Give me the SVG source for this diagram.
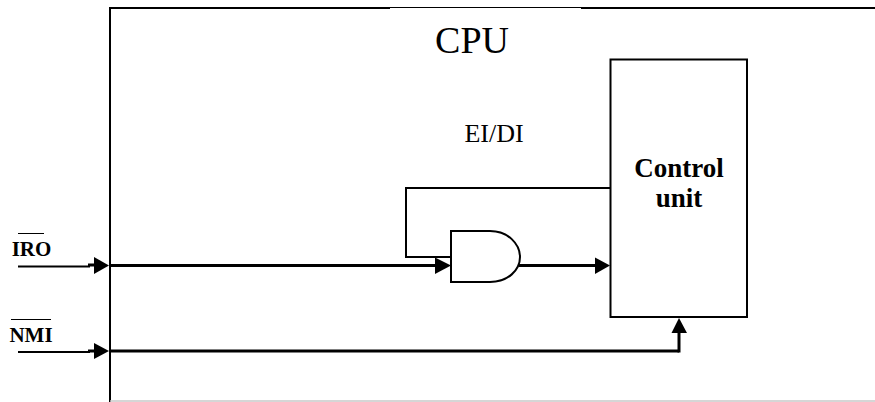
<svg xmlns="http://www.w3.org/2000/svg" width="875" height="402" viewBox="0 0 875 402">
<style>
.l{fill:none;stroke:#000;stroke-width:2}
.t{fill:none;stroke:#000;stroke-width:3}
.h{fill:#000;stroke:none}
text{font-family:"Liberation Serif","Times New Roman",serif;fill:#000}
.b{font-weight:bold}
</style>
<rect width="875" height="402" fill="#fff"/>
<g id="cpu">
<path class="l" d="M110 402V8H390"/>
<path d="M390 7.500H581" fill="none" stroke="#000" stroke-width="1"/>
<path class="l" d="M581 8H875"/>
<path d="M110 401H875" fill="none" stroke="#c8c8c8" stroke-width="1.5"/>
<text x="472" y="53" font-size="38" text-anchor="middle">CPU</text>
</g>
<g id="eidi"><text x="494" y="142" font-size="26" text-anchor="middle">EI/DI</text></g>
<g id="control-unit">
<rect class="l" x="610.500" y="59.500" width="136.500" height="257.500" fill="#fff"/>
<text class="b" x="679" y="177" font-size="27" text-anchor="middle">Control</text>
<text class="b" x="679" y="207" font-size="27" text-anchor="middle">unit</text>
</g>
<g id="and-gate">
<path class="l" d="M451 231H490C508 231 520 244 520 257C520 270 508 282 490 282H451Z" fill="#fff"/>
</g>
<g id="irq-label">
<text class="b" x="31.500" y="256" font-size="21" text-anchor="middle">IRO</text>
<path d="M18 233.500H44" fill="none" stroke="#000" stroke-width="1"/>
</g>
<g id="nmi-label">
<text class="b" x="31" y="342" font-size="21" text-anchor="middle">NMI</text>
<path d="M11 319.500H51" fill="none" stroke="#000" stroke-width="1"/>
</g>
<g id="connectors">
<path class="l" d="M18 266.500H90"/>
<path class="t" d="M88 265H94"/>
<path class="h" d="M94 257L109 265.500L94 274Z"/>
<path class="t" d="M110 265.500H436"/>
<path class="h" d="M435 257.500L451 265.500L435 274Z"/>
<path class="l" d="M610 188H406V257H451"/>
<path class="t" d="M519 265.500H596"/>
<path class="h" d="M595 257.500L610 265.500L595 274Z"/>
<path class="l" d="M18 352H90"/>
<path class="t" d="M88 351H94"/>
<path class="h" d="M94 343L109 351L94 359Z"/>
<path class="t" d="M110 351H679"/>
<path class="t" d="M679 352.500V332"/>
<path class="h" d="M671.500 333L679 318L687 333Z"/>
</g>
</svg>
